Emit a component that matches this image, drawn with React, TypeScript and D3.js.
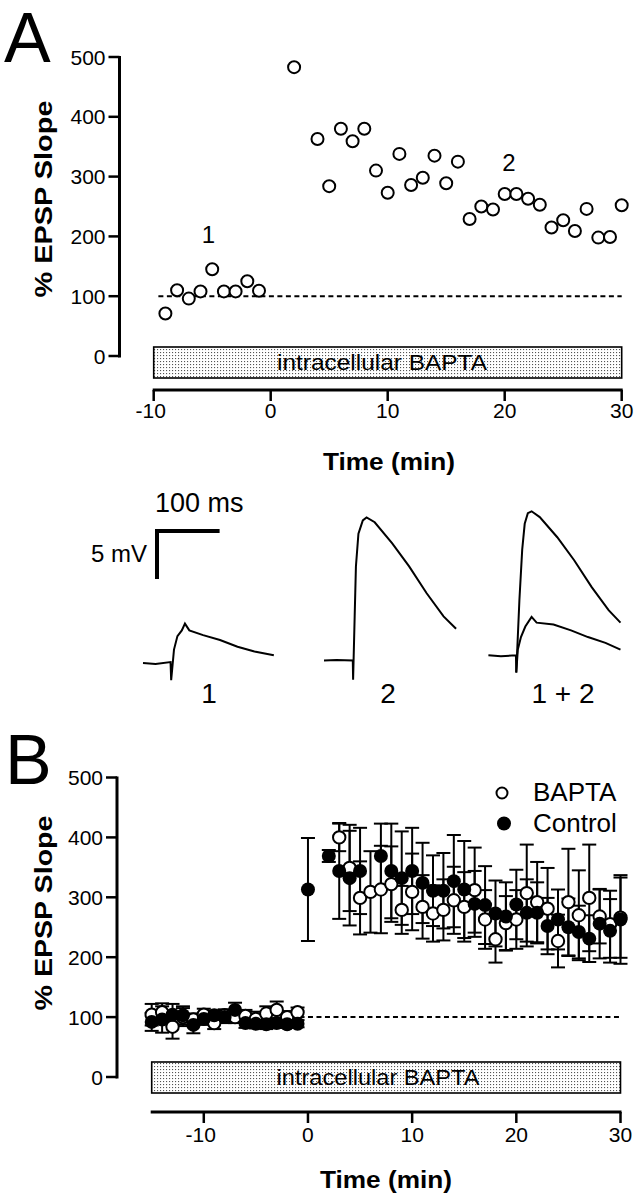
import React from 'react';
import * as d3 from 'd3';

const FONT = "'Liberation Sans', Arial, Helvetica, sans-serif";

// ---------- Panel A data ----------
const timeA = [-9, -8, -7, -6, -5, -4, -3, -2, -1, 2, 4, 5, 6, 7, 8, 9, 10, 11, 12, 13, 14, 15, 16, 17, 18, 19, 20, 21, 22, 23, 24, 25, 26, 27, 28, 29, 30];
const slopeA = [71, 110, 96, 108, 145, 108, 108, 125, 109, 483, 363, 284, 380, 359, 380, 310, 273, 338, 286, 298, 335, 289, 325, 229, 250, 245, 271, 271, 263, 253, 215, 227, 209, 246, 198, 199, 252];
const yTicks = [0, 100, 200, 300, 400, 500];
const xTicksA = [-10, 0, 10, 20, 30];
const xTicksB = [-10, 0, 10, 20, 30];

// ---------- Traces (ms, mV relative to baseline) ----------
const trace1T = [0, 20, 44, 45, 49.5, 55, 62, 67, 74, 96, 123, 151, 178, 209];
const trace1V = [0, -0.1, 0.1, -1.8, 1.4, 2.8, 3.4, 4.1, 3.4, 2.9, 2.4, 1.7, 1.2, 0.8];
const trace2T = [0, 20, 46, 46.5, 49, 51, 55, 62, 68, 81, 109, 136, 164, 191, 211];
const trace2V = [0, 0.05, 0, -2.0, 4.6, 9.8, 13.2, 14.6, 14.9, 14.4, 12.2, 9.8, 7.0, 4.6, 3.3];
const trace3aT = [0, 20, 44, 44.5, 49.5, 54, 58, 63, 69, 82, 110, 137, 165, 192, 211];
const trace3aV = [0, -0.1, 0, -1.8, 5.7, 11, 13.7, 14.8, 15.0, 14.4, 12.3, 9.9, 7.1, 4.7, 3.4];
const trace3bT = [44.5, 47, 52, 59, 69, 77, 104, 132, 159, 187, 211];
const trace3bV = [-1.8, 0.6, 1.9, 3.0, 4.0, 3.4, 3.2, 2.6, 1.9, 1.3, 0.6];

// ---------- Panel B data ----------
const timeBapta = [-15, -14, -13, -12, -11, -10, -9, -8, -7, -6, -5, -4, -3, -2, -1, 3, 4, 5, 6, 7, 8, 9, 10, 11, 12, 13, 14, 15, 16, 17, 18, 19, 20, 21, 22, 23, 24, 25, 26, 27, 28, 29, 30];
const meanBapta = [104, 108, 84, 100, 96, 104, 90, 103, 100, 102, 97, 106, 112, 100, 108, 400, 349, 299, 309, 313, 322, 279, 309, 284, 273, 279, 295, 284, 312, 263, 230, 257, 263, 307, 292, 281, 227, 292, 270, 299, 268, 255, 266];
const semBapta = [18, 15, 20, 15, 10, 10, 10, 10, 10, 10, 12, 12, 14, 10, 8, 23, 72, 61, 68, 73, 63, 40, 64, 53, 47, 51, 56, 58, 71, 49, 39, 45, 49, 81, 67, 68, 44, 89, 75, 89, 45, 56, 67];
const timeControl = [-15, -14, -13, -12, -11, -10, -9, -8, -7, -6, -5, -4, -3, -2, -1, 0, 2, 3, 4, 5, 7, 8, 9, 10, 11, 12, 13, 14, 15, 16, 17, 18, 19, 20, 21, 22, 23, 24, 25, 26, 27, 28, 29, 30];
const meanControl = [92, 96, 104, 103, 87, 97, 103, 100, 112, 90, 89, 88, 90, 88, 89, 313, 369, 344, 332, 344, 369, 344, 332, 344, 324, 311, 311, 327, 313, 289, 287, 273, 268, 288, 274, 274, 252, 263, 250, 242, 231, 256, 244, 263];
const semControl = [15, 22, 18, 15, 14, 10, 8, 10, 12, 8, 8, 8, 8, 6, 6, 86, 10, 80, 79, 72, 54, 79, 78, 72, 67, 59, 63, 77, 81, 55, 65, 55, 57, 58, 56, 51, 47, 50, 48, 44, 39, 58, 53, 74];

export default function App() {
  const xA = d3.scaleLinear().domain([-10, 30]).range([153.7, 621.7]);
  const yA = d3.scaleLinear().domain([0, 500]).range([356, 57]);
  const xB = d3.scaleLinear().domain([-15, 30]).range([151.7, 620.5]);
  const yB = d3.scaleLinear().domain([0, 500]).range([1077, 777.5]);

  const tS = d3.scaleLinear().domain([0, 100]).range([0, 62.6]);
  const vS = d3.scaleLinear().domain([0, 5]).range([0, -48]);
  const line = (T: number[], V: number[]) =>
    d3.line<number>().x((_, i) => tS(T[i])).y((_, i) => vS(V[i]))(T) || '';

  const axisA = { x: 119.5 };
  const axisB = { x: 117 };

  const yAxis = (y: d3.ScaleLinear<number, number>, ax: number) => (
    <g>
      <line x1={ax} x2={ax} y1={y(0) + 1.5} y2={y(500) - 1} stroke="#000" strokeWidth={3} />
      {yTicks.map(t => (
        <g key={t}>
          <line x1={ax - 11} x2={ax} y1={y(t)} y2={y(t)} stroke="#000" strokeWidth={2.5} />
          <text x={ax - 14} y={y(t)} dy="0.36em" textAnchor="end" fontSize={21} fontFamily={FONT}>{t}</text>
        </g>
      ))}
    </g>
  );

  const xAxis = (x: d3.ScaleLinear<number, number>, ticks: number[], yLine: number, yLab: number) => {
    const [d0, d1] = x.domain();
    return (
      <g>
        <line x1={x(d0) - 1} x2={x(d1) + 1} y1={yLine} y2={yLine} stroke="#000" strokeWidth={3} />
        {ticks.map(t => (
          <g key={t}>
            <line x1={x(t)} x2={x(t)} y1={yLine} y2={yLine + 11} stroke="#000" strokeWidth={2.5} />
            <text x={x(t) - (t < 0 ? 3 : 0)} y={yLab} textAnchor="middle" fontSize={21} fontFamily={FONT}>{t}</text>
          </g>
        ))}
      </g>
    );
  };

  const box = (x: d3.ScaleLinear<number, number>, y0: number, y1: number, tx: number, tlen: number) => {
    const [d0, d1] = x.domain();
    return (
      <g>
        <rect x={x(d0)} y={y0} width={x(d1) - x(d0)} height={y1 - y0} fill="url(#dots)" stroke="#000" strokeWidth={1.6} />
        <text x={tx} y={(y0 + y1) / 2} dy="0.36em" textAnchor="middle" fontSize={22} fontFamily={FONT}
          textLength={tlen} lengthAdjust="spacingAndGlyphs">intracellular BAPTA</text>
      </g>
    );
  };

  const errBars = (T: number[], M: number[], S: number[], key: string) => (
    <g key={key}>
      {T.map((t, i) => (
        <g key={i}>
          <line x1={xB(t)} x2={xB(t)} y1={yB(M[i] + S[i])} y2={yB(M[i] - S[i])} stroke="#000" strokeWidth={2} />
          <line x1={xB(t) - 7} x2={xB(t) + 7} y1={yB(M[i] + S[i])} y2={yB(M[i] + S[i])} stroke="#000" strokeWidth={2} />
          <line x1={xB(t) - 7} x2={xB(t) + 7} y1={yB(M[i] - S[i])} y2={yB(M[i] - S[i])} stroke="#000" strokeWidth={2} />
        </g>
      ))}
    </g>
  );

  return (
    <div style={{ position: 'absolute', left: 0, top: 0 }}>
      <svg width={639} height={1199} viewBox="0 0 639 1199" style={{ display: 'block', background: '#fff' }}>
        <defs>
          <pattern id="dots" width="3" height="3" patternUnits="userSpaceOnUse">
            <rect width="3" height="3" fill="#fff" />
            <rect x="1" y="1" width="1.1" height="1.1" fill="#555" />
          </pattern>
        </defs>
        <rect width={639} height={1199} fill="#fff" />

        {/* ---------------- Panel A ---------------- */}
        <text x={4} y={62} fontSize={70} fontFamily={FONT}>A</text>
        {yAxis(yA, axisA.x)}
        {xAxis(xA, xTicksA, 390, 418)}
        <text transform="translate(52,199) rotate(-90)" textAnchor="middle" fontSize={24} fontWeight="bold"
          fontFamily={FONT} textLength={197} lengthAdjust="spacingAndGlyphs">% EPSP Slope</text>
        <text x={389} y={470} textAnchor="middle" fontSize={24} fontWeight="bold" fontFamily={FONT}
          textLength={132} lengthAdjust="spacingAndGlyphs">Time (min)</text>
        {box(xA, 347, 378, 382, 210)}
        <line x1={xA(-9.6)} x2={xA(30)} y1={yA(100)} y2={yA(100)} stroke="#000" strokeWidth={2} strokeDasharray="5,3.5" />
        {timeA.map((t, i) => (
          <circle key={i} cx={xA(t)} cy={yA(slopeA[i])} r={6} fill="#fff" stroke="#000" strokeWidth={2} />
        ))}
        <text x={208.5} y={243} textAnchor="middle" fontSize={24} fontFamily={FONT}>1</text>
        <text x={509} y={171} textAnchor="middle" fontSize={24} fontFamily={FONT}>2</text>

        {/* ---------------- Traces ---------------- */}
        <text x={155} y={512} fontSize={27} fontFamily={FONT}>100 ms</text>
        <text x={147} y={562} textAnchor="end" fontSize={24} fontFamily={FONT}>5 mV</text>
        <path d={`M157,${531 - vS(5)}V531H${157 + tS(100)}`} fill="none" stroke="#000" strokeWidth={4} />
        <g transform="translate(143,663)">
          <path d={line(trace1T, trace1V)} fill="none" stroke="#000" strokeWidth={2} />
        </g>
        <g transform="translate(324,660.5)">
          <path d={line(trace2T, trace2V)} fill="none" stroke="#000" strokeWidth={2} />
        </g>
        <g transform="translate(488.4,655.3)">
          <path d={line(trace3aT, trace3aV)} fill="none" stroke="#000" strokeWidth={2} />
          <path d={line(trace3bT, trace3bV)} fill="none" stroke="#000" strokeWidth={2} />
        </g>
        <text x={209} y={703} textAnchor="middle" fontSize={28} fontFamily={FONT}>1</text>
        <text x={388} y={703} textAnchor="middle" fontSize={28} fontFamily={FONT}>2</text>
        <text x={563} y={703} textAnchor="middle" fontSize={28} fontFamily={FONT}>1 + 2</text>

        {/* ---------------- Panel B ---------------- */}
        <text x={5} y={784} fontSize={70} fontFamily={FONT}>B</text>
        {yAxis(yB, axisB.x)}
        {xAxis(xB, xTicksB, 1112, 1142)}
        <text transform="translate(52,913) rotate(-90)" textAnchor="middle" fontSize={24} fontWeight="bold"
          fontFamily={FONT} textLength={195} lengthAdjust="spacingAndGlyphs">% EPSP Slope</text>
        <text x={386} y={1188} textAnchor="middle" fontSize={24} fontWeight="bold" fontFamily={FONT}
          textLength={132} lengthAdjust="spacingAndGlyphs">Time (min)</text>
        {box(xB, 1062, 1093, 378, 203)}
        <line x1={xB(0)} x2={xB(30)} y1={yB(100)} y2={yB(100)} stroke="#000" strokeWidth={2} strokeDasharray="5,3.5" />
        {errBars(timeBapta, meanBapta, semBapta, 'eb')}
        {errBars(timeControl, meanControl, semControl, 'ec')}
        {timeBapta.map((t, i) => (
          <circle key={'b' + i} cx={xB(t)} cy={yB(meanBapta[i])} r={6.2} fill="#fff" stroke="#000" strokeWidth={2} />
        ))}
        {timeControl.map((t, i) => (
          <circle key={'c' + i} cx={xB(t)} cy={yB(meanControl[i])} r={7} fill="#000" />
        ))}
        {/* legend */}
        <circle cx={502} cy={793} r={5.5} fill="#fff" stroke="#000" strokeWidth={2} />
        <text x={533} y={801} fontSize={26} fontFamily={FONT}>BAPTA</text>
        <circle cx={504} cy={823.5} r={7} fill="#000" />
        <text x={533} y={832} fontSize={26} fontFamily={FONT}>Control</text>
      </svg>
    </div>
  );
}
